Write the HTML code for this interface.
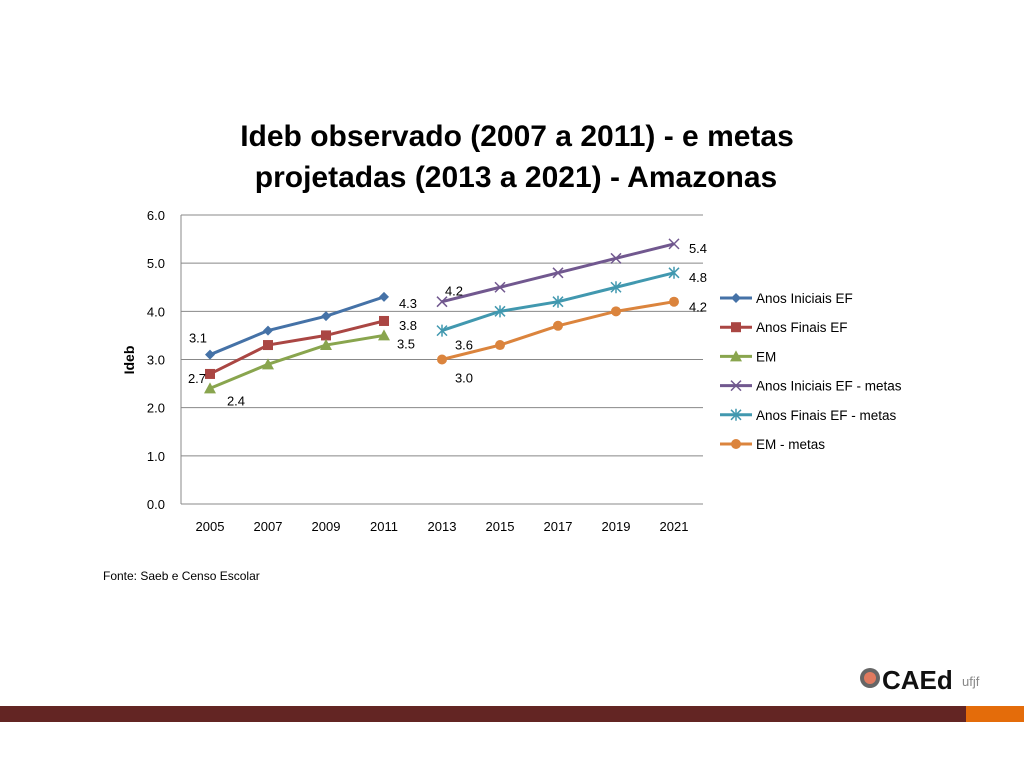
<!DOCTYPE html>
<html><head><meta charset="utf-8"><style>
body{margin:0;background:#fff;font-family:"Liberation Sans",sans-serif;}
#wrap{position:relative;width:1024px;height:768px;overflow:hidden;}
</style></head><body>
<div id="wrap">
<svg id="chart" width="1024" height="768" style="position:absolute;left:0;top:0" font-family="Liberation Sans, sans-serif">
<text x="517" y="146" text-anchor="middle" font-size="30" font-weight="bold" fill="#000">Ideb observado (2007 a 2011) - e metas</text>
<text x="516" y="187" text-anchor="middle" font-size="30" font-weight="bold" fill="#000">projetadas (2013 a 2021) - Amazonas</text>
<text transform="translate(134,360) rotate(-90)" text-anchor="middle" font-size="14" font-weight="bold">Ideb</text>
<g id="grid"></g><g id="series"></g><g id="legend"></g>
<text x="103" y="580" font-size="12">Fonte: Saeb e Censo Escolar</text>
<rect x="0" y="706" width="966" height="16" fill="#632523"/>
<rect x="966" y="706" width="58" height="16" fill="#e46c0a"/>
<g>
<circle cx="870" cy="678" r="10" fill="#666"/><circle cx="870" cy="678" r="6" fill="#e07a5f"/>
<text x="882" y="689" font-size="26" font-weight="bold" fill="#111">CAEd</text>
<text x="962" y="686" font-size="13" fill="#888">ufjf</text>
</g>
</svg>
</div>
<script>
const categories=["2005","2007","2009","2011","2013","2015","2017","2019","2021"];
const yTicks=[0,1,2,3,4,5,6];
const seriesNames=["Anos Iniciais EF","Anos Finais EF","EM","Anos Iniciais EF - metas","Anos Finais EF - metas","EM - metas"];
const aiValues=[3.1,3.6,3.9,4.3,null,null,null,null,null];
const afValues=[2.7,3.3,3.5,3.8,null,null,null,null,null];
const emValues=[2.4,2.9,3.3,3.5,null,null,null,null,null];
const aiMetas=[null,null,null,null,4.2,4.5,4.8,5.1,5.4];
const afMetas=[null,null,null,null,3.6,4.0,4.2,4.5,4.8];
const emMetas=[null,null,null,null,3.0,3.3,3.7,4.0,4.2];
const NS="http://www.w3.org/2000/svg";
const L=181,R=703,T=215,B=504;
const x=i=>L+(R-L)/categories.length*(i+0.5);
const y=v=>B-(B-T)*v/6;
function mk(tag,attrs,parent){const e=document.createElementNS(NS,tag);for(const k in attrs)e.setAttribute(k,attrs[k]);parent.appendChild(e);return e;}
const grid=document.getElementById('grid');
yTicks.forEach(t=>{
 const ln=mk('line',{x1:L,x2:R,y1:y(t),y2:y(t),stroke:'#888','stroke-width':1},grid);
 
 
 const tx=mk('text',{x:L-16,y:y(t)+5,'text-anchor':'end','font-size':13},grid);tx.textContent=t.toFixed(1);
 
 
});
const ax=mk('line',{x1:L,x2:L,y1:T,y2:B,stroke:'#888'},grid);


categories.forEach((c,i)=>{
 const tx=mk('text',{x:x(i),y:531,'text-anchor':'middle','font-size':13},grid);tx.textContent=c;
 
 
});
const cfg=[
 {d:aiValues,c:'#4572a7',m:'diamond',first:[-12,-17],last:[24,6]},
 {d:afValues,c:'#aa4643',m:'square',first:[-13,4],last:[24,4]},
 {d:emValues,c:'#89a54e',m:'triangle',first:[26,12],last:[22,8]},
 {d:aiMetas,c:'#71588f',m:'x',first:[12,-11],last:[24,4]},
 {d:afMetas,c:'#4198af',m:'star',first:[22,14],last:[24,4]},
 {d:emMetas,c:'#db843d',m:'circle',first:[22,18],last:[24,5]}
];
function marker(type,cx,cy,col,g){
 if(type==='diamond')mk('path',{d:`M${cx} ${cy-5}L${cx+5} ${cy}L${cx} ${cy+5}L${cx-5} ${cy}Z`,fill:col},g);
 else if(type==='square')mk('rect',{x:cx-5,y:cy-5,width:10,height:10,fill:col},g);
 else if(type==='triangle')mk('path',{d:`M${cx} ${cy-6}L${cx+6} ${cy+5}L${cx-6} ${cy+5}Z`,fill:col},g);
 else if(type==='circle')mk('circle',{cx,cy,r:5,fill:col},g);
 else if(type==='x')mk('path',{d:`M${cx-5} ${cy-5}L${cx+5} ${cy+5}M${cx-5} ${cy+5}L${cx+5} ${cy-5}`,stroke:col,'stroke-width':1.5},g);
 else mk('path',{d:`M${cx-5} ${cy-5}L${cx+5} ${cy+5}M${cx-5} ${cy+5}L${cx+5} ${cy-5}M${cx} ${cy-6}L${cx} ${cy+6}`,stroke:col,'stroke-width':1.5},g);
}
const sg=document.getElementById('series');
cfg.forEach((s,si)=>{
 const g=mk('g',{},sg);
 
 
 const pts=[];s.d.forEach((v,i)=>{if(v!==null)pts.push([i,v]);});
 mk('polyline',{points:pts.map(p=>x(p[0])+','+y(p[1])).join(' '),fill:'none',stroke:s.c,'stroke-width':3},g);
 pts.forEach(p=>marker(s.m,x(p[0]),y(p[1]),s.c,g));
 [[pts[0],s.first],[pts[pts.length-1],s.last]].forEach(([p,o])=>{
  const t=mk('text',{x:x(p[0])+o[0],y:y(p[1])+o[1]+5,'text-anchor':'middle','font-size':13},g);t.textContent=p[1].toFixed(1);
  
  
 });
});
const lg=document.getElementById('legend');
cfg.forEach((s,i)=>{
 const g=mk('g',{},lg);
 
 
 const ly=298+i*29.2;
 mk('line',{x1:720,x2:752,y1:ly,y2:ly,stroke:s.c,'stroke-width':3},g);
 marker(s.m,736,ly,s.c,g);
 const t=mk('text',{x:756,y:ly+5,'font-size':13.5},g);t.textContent=seriesNames[i];
});
</script>
</body></html>
